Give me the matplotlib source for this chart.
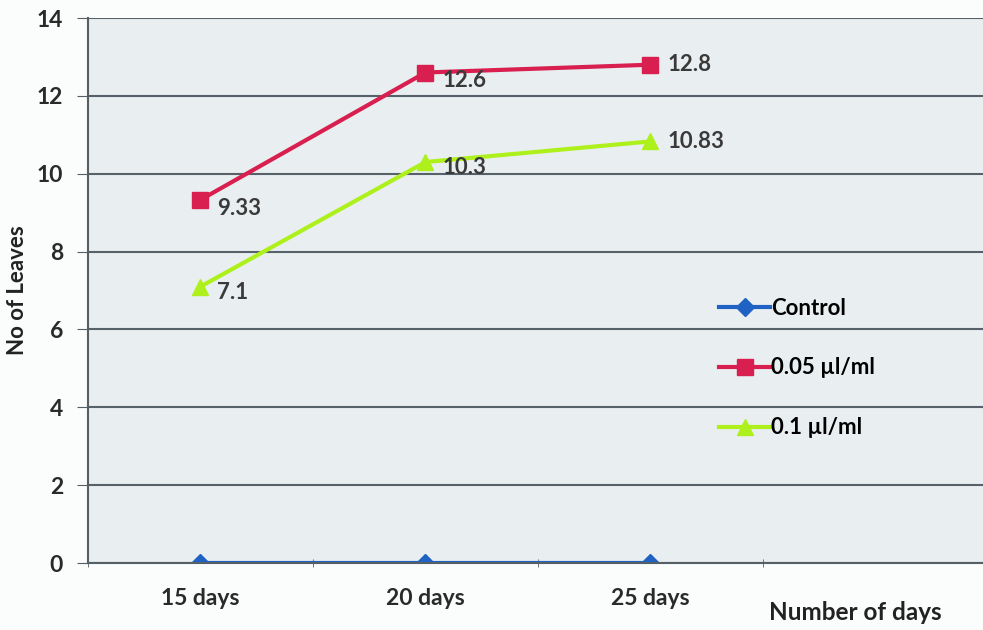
import matplotlib.pyplot as plt

plt.rcParams['font.family'] = ['Lato', 'DejaVu Sans']

days = ['15 days', '20 days', '25 days']
control = [0, 0, 0]
low_dose = [9.33, 12.6, 12.8]
high_dose = [7.1, 10.3, 10.83]

fig = plt.figure(figsize=(9.83, 6.3), dpi=100)
fig.patch.set_facecolor('#fbfcfc')
ax = fig.add_axes([88/983, 1 - 563/630, 895/983, 545/630])
ax.set_facecolor('#e9eff0')

x = range(len(days))
ax.plot(x, control, color='#1f62c4', lw=3, marker='D', ms=9, label='Control')
ax.plot(x, low_dose, color='#d81f4f', lw=3, marker='s', ms=12, label='0.05 µl/ml')
ax.plot(x, high_dose, color='#aef01c', lw=3, marker='^', ms=12, label='0.1 µl/ml')

# data labels
for i, v in enumerate(low_dose):
    ax.annotate(str(v), (i, v), xytext=(12, -6 if i < 2 else 0), textcoords='offset points',
                fontsize=16, fontweight='bold', color='#3a3a3a', va='center')
for i, v in enumerate(high_dose):
    ax.annotate(str(v), (i, v), xytext=(12, -4 if i < 2 else 0), textcoords='offset points',
                fontsize=16, fontweight='bold', color='#3a3a3a', va='center')

ax.set_xlim(-0.5, 3.478)
ax.set_ylim(0, 14)
ax.set_yticks(range(0, 15, 2))
ax.set_xticks(list(x))
ax.set_xticklabels(days)
ax.set_xticks([-0.5, 0.5, 1.5, 2.5], minor=True)
ax.tick_params(axis='x', which='major', length=0, pad=18)
ax.tick_params(axis='x', which='minor', length=6, color='#555f66', direction='inout')
ax.tick_params(axis='y', length=8, color='#555f66', pad=10)
for lab in ax.get_xticklabels() + ax.get_yticklabels():
    lab.set_fontsize(16.5)
    lab.set_fontweight('bold')
    lab.set_color('#2a2a2a')

ax.grid(axis='y', color='#56616a', lw=1.5)
ax.set_axisbelow(True)
for s in ['top', 'right']:
    ax.spines[s].set_visible(False)
ax.spines['left'].set_color('#555f66')
ax.spines['left'].set_linewidth(1.5)
ax.spines['bottom'].set_color('#555f66')
ax.spines['bottom'].set_linewidth(1.5)

fig.text(18/983, 1 - 290/630, 'No of Leaves', rotation=90, fontsize=16, fontweight='bold',
         color='#222222', ha='center', va='center')
fig.text(855/983, 1 - 612/630, 'Number of days', fontsize=17.5, fontweight='bold',
         color='#222222', ha='center', va='center')

fig.legend(loc='center left', bbox_to_anchor=(708/983, 1 - 368/630), frameon=False,
           prop={'size': 16, 'weight': 'bold'}, handlelength=2.3, handletextpad=0.05,
           labelspacing=1.75, borderpad=0)

fig.savefig('out.png', dpi=100)
